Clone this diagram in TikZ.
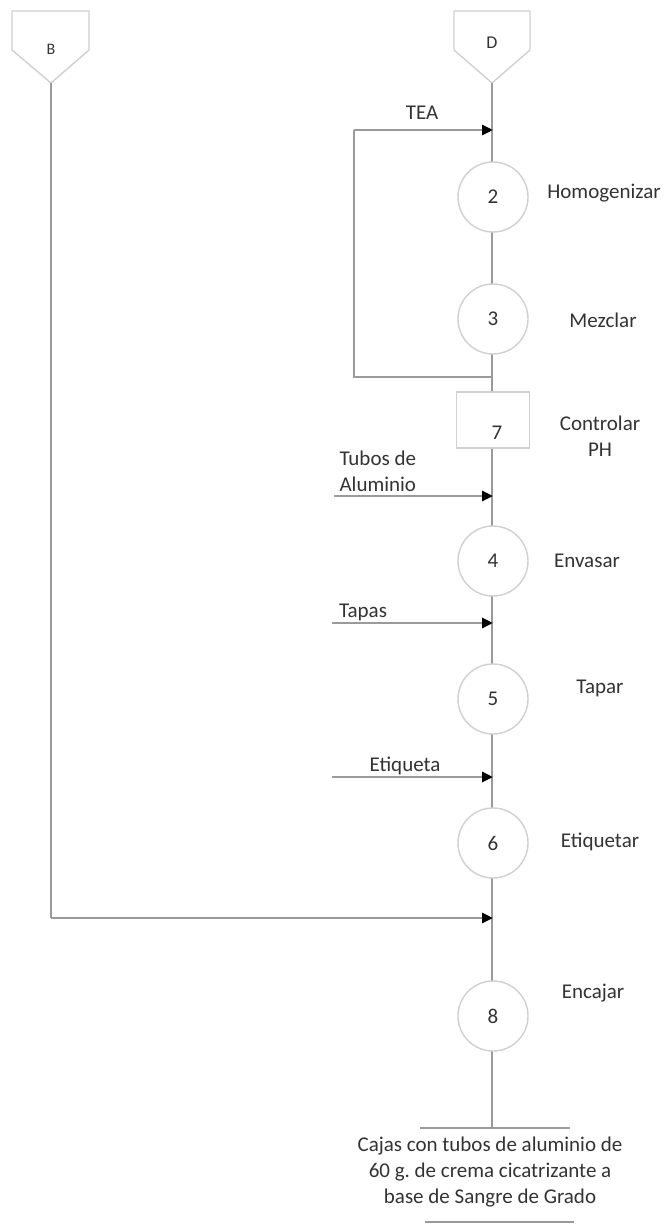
\documentclass[tikz,border=0pt]{standalone}
\usepackage{fontspec}
\setmainfont{Carlito}
\usetikzlibrary{arrows.meta}
\definecolor{linegray}{HTML}{9A9A9A}
\definecolor{shapegray}{HTML}{D0D0D0}
\definecolor{txt}{HTML}{333333}
\frenchspacing
\begin{document}
\begin{tikzpicture}[x=1pt,y=-1pt,
  every node/.style={font=\fontsize{21}{25.6}\selectfont, text=txt},
  flow/.style={draw=linegray, line width=2.8pt},
  inflow/.style={draw=linegray, line width=2.8pt, -{Triangle[length=11pt,width=10pt,color=black]}, shorten >=-1pt},
  opcircle/.style={circle, draw=shapegray, line width=1.4pt, minimum size=70pt, inner sep=0pt, fill=white},
  ctrlbox/.style={rectangle, draw=shapegray, line width=1.4pt, minimum width=73pt, minimum height=56pt, inner sep=0pt, fill=white},
  connshape/.style={draw=shapegray, line width=1.4pt},
  rule/.style={draw=linegray, line width=2.4pt}
]
\useasboundingbox (0,0) rectangle (668,1225);
\fill[white] (0,0) rectangle (668,1225);

% off-page connectors
\draw[connshape] (12,11) -- (89,11) -- (89,50) -- (51,83) -- (12,50) -- cycle;
\coordinate (bpt) at (51,83);
\node (blab) at (51,49) {\fontsize{16}{18}\selectfont B};
\draw[connshape] (454,11) -- (530,11) -- (530,50) -- (492,83) -- (454,50) -- cycle;
\coordinate (dpt) at (492,83);
\node (dlab) at (492,43) {\fontsize{18}{20}\selectfont D};

% junction coordinates on the main line
\coordinate (jtea) at (492,130);
\coordinate (jloop) at (492,377);
\coordinate (jtub) at (492,496);
\coordinate (jtap) at (492,623);
\coordinate (jeti) at (492,777);
\coordinate (jb) at (492,918);
\coordinate (jend) at (492,1128);

% main line
\draw[flow] (dpt) -- (jend);

% operations
\node[opcircle] (o2) at (493,197) {2};
\node[opcircle] (o3) at (493,319) {3};
\node[ctrlbox] (c7) at (493,420) {};
\node (c7lab) at (497,433) {7};
\node[opcircle] (o4) at (493,561) {4};
\node[opcircle] (o5) at (493,699) {5};
\node[opcircle] (o6) at (493,843) {6};
\node[opcircle] (o8) at (493,1016) {8};

% labels
\node (l2) at (604,193) {Homogenizar};
\node (l3) at (603,320) {Mezclar};
\node[align=center] (l7) at (600,436) {Controlar\\PH};
\node (l4) at (587,561) {Envasar};
\node (l5) at (600,688) {Tapar};
\node (l6) at (600,842) {Etiquetar};
\node (l8) at (593,993) {Encajar};

% TEA loop
\coordinate (tl) at (354,130);
\coordinate (bl) at (354,377);
\draw[flow] (jloop) -- (bl) -- (tl);
\draw[inflow] (tl) -- (jtea);
\node (tea) at (422,113) {TEA};

% inputs
\coordinate (tubs) at (334,496);
\draw[inflow] (tubs) -- (jtub);
\node[align=left, anchor=west] (tubl) at (336,471) {Tubos de\\Aluminio};

\coordinate (taps) at (332,623);
\draw[inflow] (taps) -- (jtap);
\node (tapl) at (363,612) {Tapas};

\coordinate (etis) at (332,777);
\draw[inflow] (etis) -- (jeti);
\node (etil) at (405,766) {Etiqueta};

% B branch
\coordinate (bcorner) at (51,918);
\draw[flow] (bpt) -- (bcorner);
\draw[inflow] (bcorner) -- (jb);

% product
\coordinate (r1l) at (420,1128);
\coordinate (r1r) at (570,1128);
\draw[rule] (r1l) -- (r1r);
\node[align=center] (prod) at (490,1172) {Cajas con tubos de aluminio de\\60 g. de crema cicatrizante a\\base de Sangre de Grado};
\coordinate (r2l) at (425,1222);
\coordinate (r2r) at (574,1222);
\draw[rule] (r2l) -- (r2r);
\end{tikzpicture}
\end{document}
